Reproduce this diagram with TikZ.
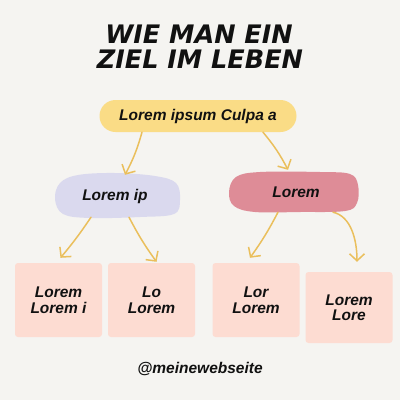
\documentclass[tikz,border=0pt]{standalone}
\usepackage{fontspec}
\setmainfont{Liberation Sans}
\newfontfamily\titlefont{DejaVu Sans}
\usetikzlibrary{arrows.meta,calc}
\definecolor{bg}{HTML}{F5F4F1}
\definecolor{yel}{HTML}{FADC86}
\definecolor{lav}{HTML}{DAD9EE}
\definecolor{rose}{HTML}{DE8C97}
\definecolor{peach}{HTML}{FDDCD2}
\definecolor{arrowc}{HTML}{EABF5C}
\definecolor{ink}{HTML}{111111}
\tikzset{
  titletext/.style={font=\titlefont\bfseries\itshape\fontsize{25.5}{30}\selectfont, text=ink, inner sep=0pt},
  bodytext/.style={font=\bfseries\itshape\fontsize{15.5}{15.5}\selectfont, text=ink, align=center, inner sep=0pt},
  leafbox/.style={bodytext, fill=peach, rounded corners=3pt, minimum width=87pt, minimum height=74pt},
  conn/.style={draw=arrowc, line width=1.5pt, line cap=round, -{Straight Barb[length=7pt,width=15pt,line width=1.5pt]}}
}
\begin{document}
\begin{tikzpicture}[x=1pt,y=-1pt]
\fill[bg] (0,0) rectangle (400,400);
\useasboundingbox (0,0) rectangle (400,400);

% title
\node[titletext] (t1) at (199,34) {WIE MAN EIN};
\node[titletext] (t2) at (200,59) {ZIEL IM LEBEN};

% top node
\node[bodytext, fill=yel, rounded corners=16pt, minimum width=197pt, minimum height=32pt] (top) at (198,116) {Lorem ipsum Culpa a};

% blobs
\fill[lav] plot[smooth cycle, tension=0.6] coordinates {(55,199) (60,183) (78,175) (115,173) (155,176) (176,183) (180,200) (174,214) (140,217) (90,218) (63,214)};
\fill[rose] plot[smooth cycle, tension=0.6] coordinates {(229,192) (236,177) (260,172) (320,172) (350,174) (358,185) (357,203) (345,211) (300,212) (255,212) (234,206)};
\node[bodytext, minimum width=125pt, minimum height=44pt] (lv) at (115,196) {Lorem ip};
\node[bodytext, minimum width=129pt, minimum height=40pt] (pk) at (296,192) {Lorem};

% leaves
\node[leafbox] (b1) at (58.5,300) {Lorem\\Lorem i};
\node[leafbox] (b2) at (151.5,300) {Lo\\Lorem};
\node[leafbox] (b3) at (256,300) {Lor\\Lorem};
\node[leafbox, minimum height=71pt] (b4) at (349,307.5) {Lorem\\Lore};

% footer
\node[bodytext] (ft) at (200,369) {@meinewebseite};

% connectors
\draw[conn] ([xshift=-56pt]top.south) to[bend left=6] ([xshift=10pt,yshift=-1pt]lv.north);
\draw[conn] ([xshift=65pt]top.south) to[bend left=6] ([xshift=-8pt,yshift=2pt]pk.north);
\draw[conn] ([xshift=-24pt,yshift=1pt]lv.south) to[bend left=3] ([xshift=2pt,yshift=5pt]b1.north);
\draw[conn] ([xshift=14pt,yshift=1pt]lv.south) to[bend right=4] ([xshift=5pt,yshift=1pt]b2.north);
\draw[conn] ([xshift=-18pt]pk.south) to[bend left=4] ([xshift=-6pt,yshift=5pt]b3.north);
\draw[conn] ([xshift=37pt]pk.south) .. controls +(18,4) and +(0,-22) .. ([xshift=8pt,yshift=10pt]b4.north);
\end{tikzpicture}
\end{document}
